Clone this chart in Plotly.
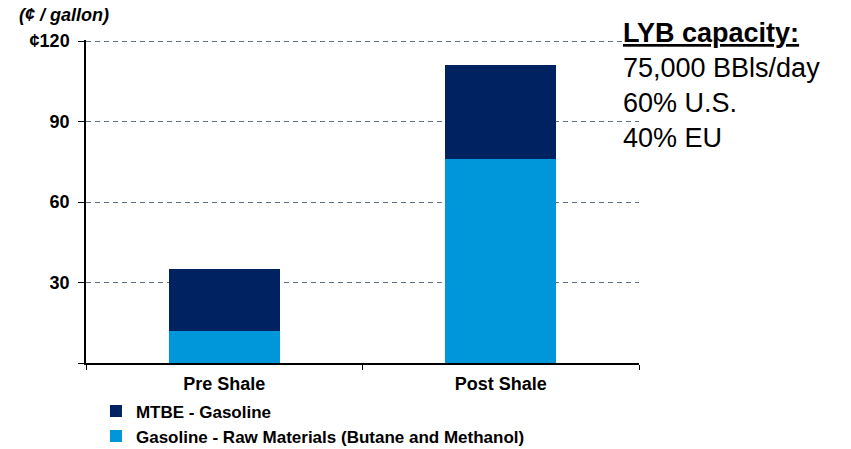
import plotly.graph_objects as go

CATEGORIES = ["Pre Shale", "Post Shale"]
RAW_MATERIALS = [12, 76]   # Gasoline - Raw Materials (Butane and Methanol)
MTBE_GASOLINE = [23, 35]   # MTBE - Gasoline
Y_TICKS = [0, 30, 60, 90, 120]
Y_TICK_TEXT = ["", "30", "60", "90", "¢120"]

DARK = "#002261"
LIGHT = "#0096DA"
GRID = "#5E7286"
FONT = "Arial, Liberation Sans, sans-serif"


def main():
    fig = go.Figure()
    fig.add_trace(go.Bar(
        x=CATEGORIES, y=RAW_MATERIALS,
        name="Gasoline - Raw Materials (Butane and Methanol)",
        marker_color=LIGHT, marker_line_width=0, width=0.4,
    ))
    fig.add_trace(go.Bar(
        x=CATEGORIES, y=MTBE_GASOLINE,
        name="MTBE - Gasoline",
        marker_color=DARK, marker_line_width=0, width=0.4,
    ))

    fig.update_layout(
        barmode="stack",
        width=851, height=449,
        margin=dict(l=86, r=212, t=40, b=86, autoexpand=False),
        plot_bgcolor="white",
        paper_bgcolor="white",
        font=dict(family=FONT, size=18, color="black"),
        showlegend=True,
        legend=dict(
            traceorder="reversed",
            orientation="v",
            x=0.018, y=-0.094,
            xanchor="left", yanchor="top",
            font=dict(size=17, family=FONT, color="black", weight="bold"),
            itemsizing="constant",
            tracegroupgap=0,
            bgcolor="rgba(0,0,0,0)",
        ),
    )
    fig.update_xaxes(
        range=[-0.5, 1.5],
        showline=True, linecolor="black", linewidth=1.5,
        ticks="outside", tickson="boundaries", ticklen=5, tickcolor="black",
        ticklabelstandoff=4,
        showgrid=False,
        tickfont=dict(size=18, weight="bold"),
    )
    fig.update_yaxes(
        range=[0, 120.4],
        tickvals=Y_TICKS, ticktext=Y_TICK_TEXT,
        showline=True, linecolor="black", linewidth=1.5,
        ticks="outside", ticklen=6, tickcolor="black",
        ticklabelstandoff=5,
        showgrid=True, gridcolor=GRID, gridwidth=1, griddash="5px,4px",
        zeroline=False,
        tickfont=dict(size=18, weight="bold"),
    )

    # Unit label above the axis
    fig.add_annotation(
        text="<b><i>(¢ / gallon)</i></b>",
        xref="paper", yref="paper",
        x=-0.125, y=1.04,
        xanchor="left", yanchor="bottom",
        showarrow=False,
        font=dict(size=18),
    )

    # Capacity note on the right
    fig.add_annotation(
        text="<b><u>LYB capacity:</u></b><br>75,000 BBls/day<br>60% U.S.<br>40% EU",
        xref="paper", yref="paper",
        x=0.968, y=1.073,
        xanchor="left", yanchor="top",
        align="left",
        showarrow=False,
        font=dict(size=27),
    )

    # Drop the default page margin so the figure sits at the window's corner
    fig.write_html(
        "out.html",
        config={"displayModeBar": False},
        post_script="document.body.style.margin='0';",
    )


if __name__ == "__main__":
    main()
